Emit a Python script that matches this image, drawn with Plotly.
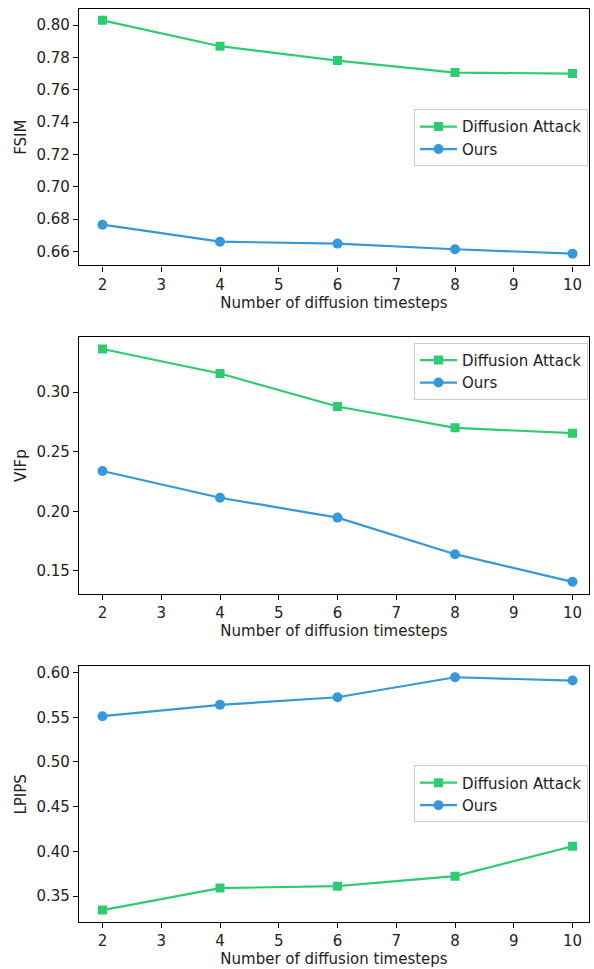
import plotly.graph_objects as go

W, H = 594, 969

timesteps = [2, 4, 6, 8, 10]

fsim_diffusion = [0.8029, 0.7869, 0.7780, 0.7706, 0.7700]
fsim_ours = [0.6766, 0.6661, 0.6649, 0.6614, 0.6587]

vifp_diffusion = [0.3363, 0.3157, 0.2880, 0.2701, 0.2656]
vifp_ours = [0.2338, 0.2114, 0.1947, 0.1640, 0.1408]

lpips_diffusion = [0.3344, 0.3590, 0.3611, 0.3723, 0.4058]
lpips_ours = [0.5512, 0.5639, 0.5724, 0.5948, 0.5911]

metric_names = ["FSIM", "VIFp", "LPIPS"]
x_ticks = [2, 3, 4, 5, 6, 7, 8, 9, 10]

GREEN = "#2ecc71"
BLUE = "#3498db"
FONT = "DejaVu Sans"
FS = 15
TXT = "#222"

# panel pixel boxes (top, bottom)
boxes = [(7, 264), (336, 593.3), (665.7, 922.3)]
yranges = [(0.6514, 0.8099), (0.1305, 0.3461), (0.3206, 0.607)]
ydticks = [0.02, 0.05, 0.05]
legend_tops = [107.5, 341.5, 765]
x_left, x_right = 79, 589

series = [
    (fsim_diffusion, fsim_ours),
    (vifp_diffusion, vifp_ours),
    (lpips_diffusion, lpips_ours),
]

fig = go.Figure()
layout = dict(
    width=W, height=H,
    margin=dict(l=0, r=0, t=0, b=0),
    paper_bgcolor="white", plot_bgcolor="white",
    font=dict(family=FONT, size=FS, color=TXT),
    showlegend=True,
)

for i, (da, ours) in enumerate(series):
    n = "" if i == 0 else str(i + 1)
    xa = "x" + n
    ya = "y" + n
    leg = "legend" + n
    fig.add_trace(go.Scatter(
        x=timesteps, y=da, name="Diffusion Attack", mode="lines+markers",
        line=dict(color=GREEN, width=2.2),
        marker=dict(symbol="square", size=9, color=GREEN),
        xaxis=xa, yaxis=ya, legend=leg,
    ))
    fig.add_trace(go.Scatter(
        x=timesteps, y=ours, name="Ours", mode="lines+markers",
        line=dict(color=BLUE, width=2.2),
        marker=dict(symbol="circle", size=10, color=BLUE),
        xaxis=xa, yaxis=ya, legend=leg,
    ))
    top, bot = boxes[i]
    common = dict(showline=True, linecolor="black", linewidth=1.2, mirror=True,
                  ticks="outside", ticklen=5, tickcolor="black", tickwidth=1.2,
                  showgrid=False, zeroline=False,
                  tickfont=dict(family=FONT, size=FS, color=TXT))
    layout["xaxis" + n] = dict(
        domain=[x_left / W, x_right / W], anchor=ya,
        range=[1.6, 10.28], tickmode="array", tickvals=x_ticks,
        title=dict(text="Number of diffusion timesteps", standoff=4,
                   font=dict(family=FONT, size=FS, color=TXT)),
        **common)
    layout["yaxis" + n] = dict(
        domain=[1 - bot / H, 1 - top / H], anchor=xa,
        range=list(yranges[i]), dtick=ydticks[i], tick0=0, tickformat=".2f",
        title=dict(text=metric_names[i], standoff=6,
                   font=dict(family=FONT, size=FS, color=TXT)),
        **common)
    layout[leg] = dict(
        x=588 / W, y=1 - legend_tops[i] / H, xanchor="right", yanchor="top",
        bgcolor="rgba(255,255,255,0.8)", bordercolor="#cccccc", borderwidth=1,
        font=dict(family=FONT, size=FS, color=TXT),
        tracegroupgap=0, itemwidth=37,
    )

fig.update_layout(**layout)
fig.write_html(
    "out.html",
    config={"displayModeBar": False},
    post_script="document.body.style.margin='0';document.body.style.overflow='hidden';",
)
